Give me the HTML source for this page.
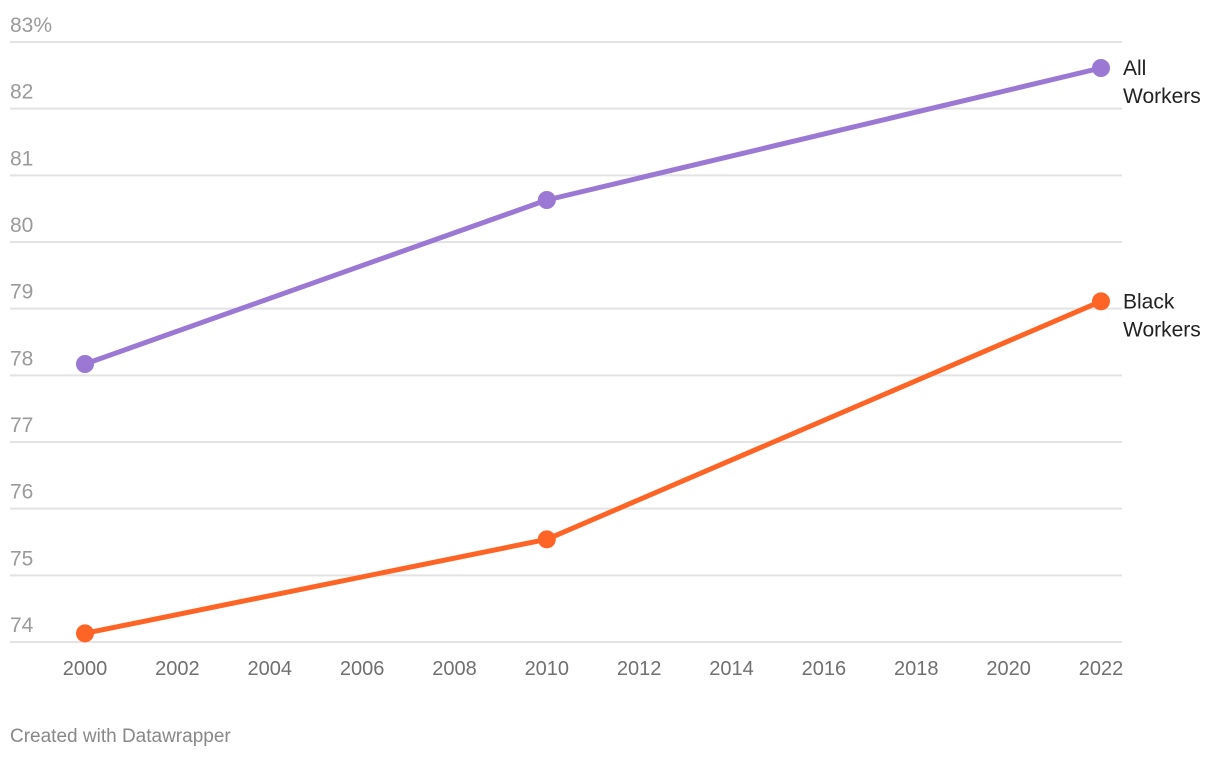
<!DOCTYPE html>
<html><head><meta charset="utf-8"><style>
html,body{margin:0;padding:0;background:#fff;}
svg{display:block;font-family:"Liberation Sans",Arial,sans-serif;}
</style></head><body>
<svg id="chart" width="1220" height="758">
<g id="grid"></g><g id="xaxis"></g><g id="series"></g>
<text x="10" y="742" font-size="19" fill="#888">Created with Datawrapper</text>
</svg>
<script>
const years = [2000, 2010, 2022];
const allWorkers = [78.17, 80.63, 82.61];
const blackWorkers = [74.13, 75.54, 79.11];
const yTicks = [74, 75, 76, 77, 78, 79, 80, 81, 82, 83];
const xTicks = [2000, 2002, 2004, 2006, 2008, 2010, 2012, 2014, 2016, 2018, 2020, 2022];
const ns = "http://www.w3.org/2000/svg";
const x = v => 85 + (v - 2000) * (1101 - 85) / 22;
const y = v => 642 - (v - 74) * (600 / 9);
function mk(tag, attrs, parent) {
  const e = document.createElementNS(ns, tag);
  for (const k in attrs) e.setAttribute(k, attrs[k]);
  parent.appendChild(e); return e;
}
const grid = document.getElementById('grid');
yTicks.forEach(t => {
  const l = mk('line', {x1: 10, x2: 1122, y1: y(t), y2: y(t), stroke: '#e3e3e3', 'stroke-width': 2}, grid);
  
  
  const tx = mk('text', {x: 10, y: y(t) - 10, 'font-size': 21, fill: '#9a9a9a'}, grid);
  tx.textContent = t === 83 ? '83%' : String(t);
  
  
});
const xa = document.getElementById('xaxis');
xTicks.forEach(t => {
  const tx = mk('text', {x: x(t), y: 675, 'font-size': 20, fill: '#707070', 'text-anchor': 'middle'}, xa);
  tx.textContent = String(t);
  
  
});
const sg = document.getElementById('series');
function drawSeries(vals, color, name, lab1, lab2) {
  const pts = years.map((yr, i) => x(yr) + ',' + y(vals[i])).join(' ');
  const pl = mk('polyline', {points: pts, fill: 'none', stroke: color, 'stroke-width': 5, 'stroke-linejoin': 'round'}, sg);
  
  
  years.forEach((yr, i) => {
    const c = mk('circle', {cx: x(yr), cy: y(vals[i]), r: 9, fill: color}, sg);
    
    
  });
  const ly = y(vals[vals.length - 1]);
  const t = mk('text', {x: 1123, y: ly + 7, 'font-size': 21, fill: '#222'}, sg);
  
  
  const s1 = mk('tspan', {x: 1123}, t); s1.textContent = lab1;
  const s2 = mk('tspan', {x: 1123, dy: 28}, t); s2.textContent = lab2;
}
drawSeries(allWorkers, '#9a78d4', 'all-workers', 'All', 'Workers');
drawSeries(blackWorkers, '#ff6427', 'black-workers', 'Black', 'Workers');
</script>
</body></html>
